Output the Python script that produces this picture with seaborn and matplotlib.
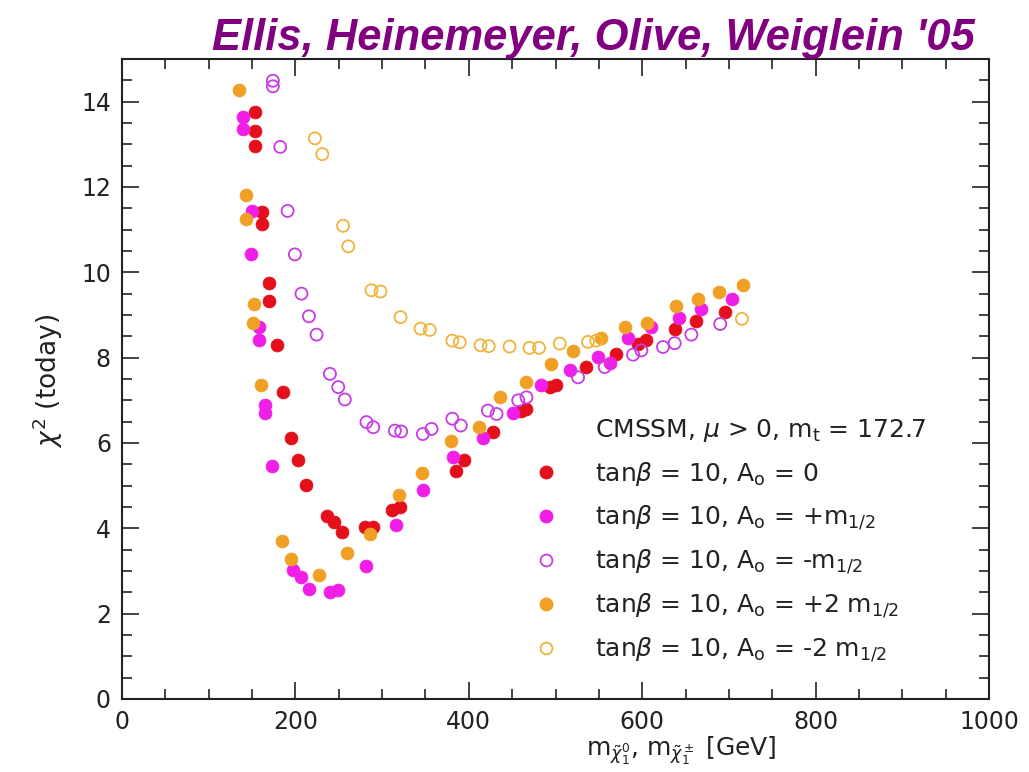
import matplotlib
matplotlib.use("Agg")
import matplotlib.pyplot as plt
import seaborn as sns
import pandas as pd
from matplotlib.ticker import MultipleLocator
from matplotlib.lines import Line2D

# ---------------- data ----------------
a0_zero_x = [153, 153, 153, 161.7, 161, 169.8, 169.8, 178.3, 186, 194.4, 202.9, 211.7,
             236, 244.4, 254, 280, 289, 311, 320.5, 385.8, 394.6, 428, 460.7, 466.5,
             494, 501, 535.6, 570, 595, 604.8, 637.5, 662.5, 696]
a0_zero_y = [13.75, 13.31, 12.96, 11.42, 11.13, 9.76, 9.33, 8.30, 7.19, 6.12, 5.59, 5.02,
             4.28, 4.14, 3.92, 4.02, 4.02, 4.43, 4.49, 5.34, 5.59, 6.25, 6.76, 6.80,
             7.31, 7.37, 7.78, 8.09, 8.32, 8.42, 8.67, 8.86, 9.06]

a0_plus_x = [140, 140, 149.5, 148.7, 157.5, 157.5, 164.8, 164.8, 173.3, 197.5, 207, 215.6,
             239.8, 249.4, 282, 315.8, 346.6, 382, 416.5, 451, 483.8, 516.4, 549, 562.5,
             583.7, 610.6, 643, 668, 703]
a0_plus_y = [13.63, 13.36, 11.44, 10.42, 8.72, 8.42, 6.89, 6.71, 5.47, 3.03, 2.87, 2.57,
             2.50, 2.55, 3.11, 4.07, 4.90, 5.67, 6.12, 6.70, 7.35, 7.70, 8.02, 7.87,
             8.46, 8.72, 8.93, 9.13, 9.38]

a0_minus_x = [174, 174, 182.5, 191, 199.4, 207, 215.6, 224.4, 239.8, 249.4, 257, 282, 289.8,
              314.7, 322, 347, 357, 381, 390.8, 422, 432, 457, 466.5, 526, 556.8, 589.5,
              599, 624, 637.5, 656.7, 690]
a0_minus_y = [14.49, 14.36, 12.94, 11.44, 10.42, 9.50, 8.97, 8.54, 7.62, 7.31, 7.02, 6.49, 6.37,
              6.29, 6.27, 6.21, 6.33, 6.57, 6.41, 6.76, 6.68, 7.00, 7.07, 7.54, 7.78, 8.07,
              8.17, 8.25, 8.34, 8.54, 8.79]

a0_plus2_x = [135, 143, 143, 152, 151.4, 160, 185, 194.4, 227, 259, 286.6, 319.7, 345.5,
              379, 411.5, 436.5, 466.5, 495, 520, 553, 580, 605, 639.5, 664, 689, 716]
a0_plus2_y = [14.27, 11.82, 11.24, 9.25, 8.82, 7.35, 3.71, 3.28, 2.91, 3.42, 3.87, 4.78, 5.30,
              6.04, 6.38, 7.07, 7.43, 7.85, 8.15, 8.46, 8.73, 8.81, 9.20, 9.38, 9.55, 9.71]

a0_minus2_x = [222.5, 231, 255, 261, 287.8, 298.2, 321.3, 344.3, 355, 381, 389.6, 413.5, 423,
               447, 470, 481, 504.9, 537.5, 547, 715]
a0_minus2_y = [13.14, 12.77, 11.09, 10.61, 9.58, 9.55, 8.95, 8.68, 8.65, 8.40, 8.36, 8.29, 8.27,
               8.26, 8.23, 8.23, 8.33, 8.37, 8.40, 8.91]

header_label = r"CMSSM, $\mu$ > 0, m$_{\rm t}$ = 172.7"
series_labels = [r"tan$\beta$ = 10, A$_{\rm o}$ = 0",
                 r"tan$\beta$ = 10, A$_{\rm o}$ = +m$_{1/2}$",
                 r"tan$\beta$ = 10, A$_{\rm o}$ = -m$_{1/2}$",
                 r"tan$\beta$ = 10, A$_{\rm o}$ = +2 m$_{1/2}$",
                 r"tan$\beta$ = 10, A$_{\rm o}$ = -2 m$_{1/2}$"]
x_ticks = [0, 200, 400, 600, 800, 1000]
y_ticks = [0, 2, 4, 6, 8, 10, 12, 14]
title_text = "Ellis, Heinemeyer, Olive, Weiglein '05"

# ---------------- style ----------------
sns.set_style("ticks")
plt.rcParams["font.family"] = ["DejaVu Sans"]
plt.rcParams["mathtext.fontset"] = "dejavusans"

W, H = 1029, 772
fig = plt.figure(figsize=(W / 100, H / 100), dpi=100)
fig.patch.set_facecolor("white")
ax = fig.add_axes([122 / W, 1 - 699 / H, 867 / W, 640 / H])
ax.set_facecolor("white")

styles = [
    (a0_zero_x, a0_zero_y, "#e3101c", True),
    (a0_plus_x, a0_plus_y, "#f01ee6", True),
    (a0_minus_x, a0_minus_y, "#c83ce6", False),
    (a0_plus2_x, a0_plus2_y, "#f0a024", True),
    (a0_minus2_x, a0_minus2_y, "#f0b43c", False),
]

handles = [Line2D([], [], linestyle="none", marker=None)]
for (xs, ys, col, filled), lab in zip(styles, series_labels):
    df = pd.DataFrame({"m": xs, "chi2": ys})
    if filled:
        sns.scatterplot(data=df, x="m", y="chi2", ax=ax, s=85, marker="o",
                        color=col, edgecolor=col, linewidth=0.6, zorder=3)
        handles.append(Line2D([], [], linestyle="none", marker="o", markersize=9,
                              markerfacecolor=col, markeredgecolor=col))
    else:
        sns.scatterplot(data=df, x="m", y="chi2", ax=ax, s=75, marker="o",
                        facecolor="none", edgecolor=col, linewidth=1.3, zorder=3)
        handles.append(Line2D([], [], linestyle="none", marker="o", markersize=8.5,
                              markerfacecolor="none", markeredgecolor=col,
                              markeredgewidth=1.3))

ax.set_xlim(0, 1000)
ax.set_ylim(0, 15)
ax.set_xticks(x_ticks)
ax.set_yticks(y_ticks)
ax.xaxis.set_minor_locator(MultipleLocator(50))
ax.yaxis.set_minor_locator(MultipleLocator(0.5))
ax.tick_params(which="both", direction="in", top=True, right=True,
               color="#222222", width=1.2)
ax.tick_params(which="major", length=12, labelsize=17, pad=8, labelcolor="#222222")
ax.tick_params(which="minor", length=7)
for sp in ax.spines.values():
    sp.set_linewidth(1.5)
    sp.set_color("#222222")

ax.set_xlabel(r"m$_{\tilde{\chi}^0_1}$, m$_{\tilde{\chi}^\pm_1}$ [GeV]", fontsize=18,
              color="#222222")
ax.set_ylabel(r"$\chi^2$ (today)", fontsize=19, color="#222222")
ax.xaxis.set_label_coords(559 / 867, -36 / 640)
ax.yaxis.set_label_coords(-57 / 867, 0.497)

leg = ax.legend(handles, [header_label] + series_labels, loc="upper left",
                bbox_to_anchor=(536 / W, 1 - 417 / H), bbox_transform=fig.transFigure,
                frameon=False, fontsize=18, handlelength=0.8, handletextpad=1.55,
                labelspacing=0.64, borderpad=0, borderaxespad=0)
for t in leg.get_texts():
    t.set_color("#222222")

title = fig.text(593 / W, 1 - 50 / H, title_text, ha="center", va="baseline",
                 fontsize=34, fontweight="bold", fontstyle="italic", color="#800080",
                 family=["Liberation Sans Narrow", "Liberation Sans", "DejaVu Sans"])
# fit the title width to the reference (about 762 px)
fig.canvas.draw()
bb = title.get_window_extent()
title.set_fontsize(34 * 762 / bb.width)

fig.savefig("out.png", dpi=100, facecolor="white")
